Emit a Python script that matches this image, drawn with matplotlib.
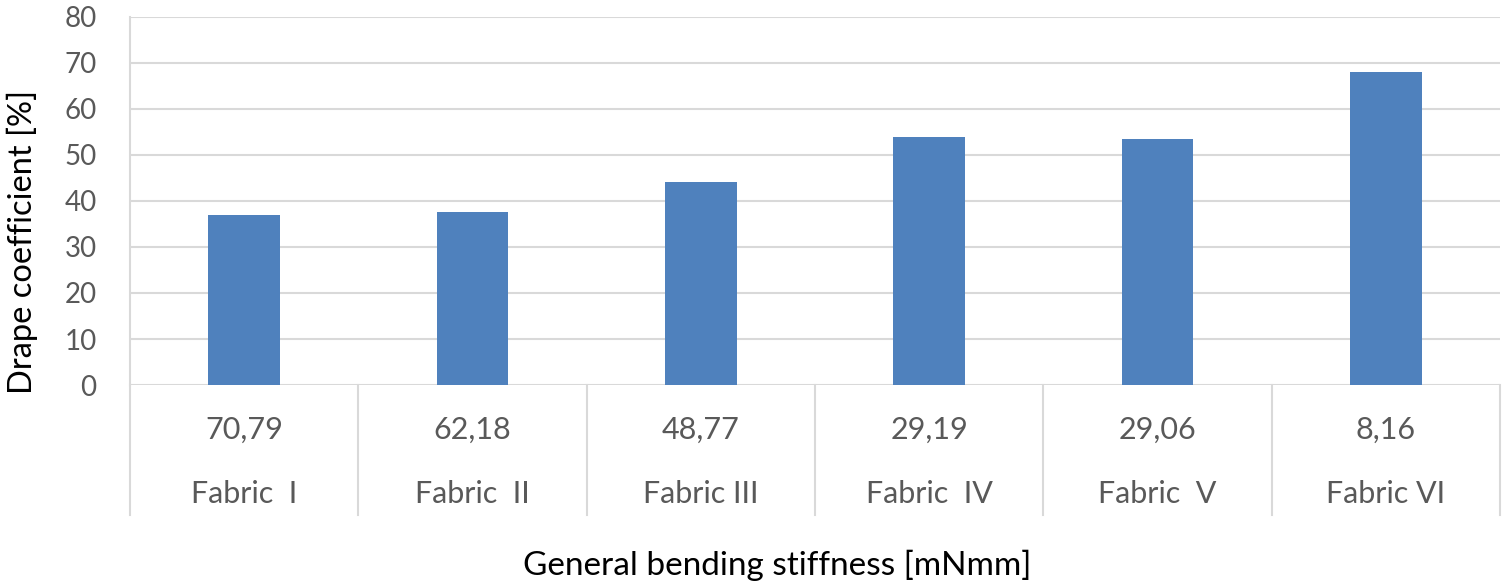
import numpy as np
import matplotlib
matplotlib.use('Agg')
import matplotlib.pyplot as plt
from matplotlib.transforms import blended_transform_factory

# datos
fabrics = ['Fabric  I', 'Fabric  II', 'Fabric III', 'Fabric  IV', 'Fabric  V', 'Fabric VI']
stiffness = ['70,79', '62,18', '48,77', '29,19', '29,06', '8,16']
drape = [37.0, 37.5, 44.2, 54.0, 53.5, 68.1]

plt.rcParams['font.family'] = ['Lato', 'DejaVu Sans']

fig = plt.figure(figsize=(15.02, 5.87), dpi=100)
ax = fig.add_axes([130/1502, 1-385/587, 1370/1502, 368/587])

x = np.arange(len(drape))
ax.bar(x, drape, width=0.315, color='#4f81bd', zorder=3)

ax.set_xlim(-0.5, len(drape) - 0.5)
ax.set_ylim(0, 80)
ax.set_yticks(np.arange(0, 81, 10))
ax.tick_params(axis='y', length=0, pad=24, labelsize=20, labelcolor='#595959')
ax.set_xticks([])
ax.grid(axis='y', color='#d9d9d9', lw=1.5, zorder=0)
for s in ['top', 'right', 'bottom']:
    ax.spines[s].set_visible(False)
ax.spines['left'].set_color('#d9d9d9')
ax.spines['left'].set_linewidth(1.5)

# separadores de categorias debajo del eje
tr = blended_transform_factory(ax.transData, ax.transAxes)
for xs in np.arange(-0.5, len(drape), 1.0):
    ax.plot([xs, xs], [0, -0.353], transform=tr, color='#d9d9d9', lw=1.5, clip_on=False)

for i in range(len(drape)):
    ax.text(i, -0.122, stiffness[i], transform=tr, ha='center', va='center',
            fontsize=22, color='#595959')
    ax.text(i, -0.296, fabrics[i], transform=tr, ha='center', va='center',
            fontsize=22, color='#595959')

fig.text(777/1502, 1 - 565/587, 'General bending stiffness [mNmm]',
         ha='center', va='center', fontsize=24, color='black')
fig.text(22/1502, 1 - 242/587, 'Drape coefficient [%]', rotation=90,
         ha='center', va='center', fontsize=23.5, color='black')

fig.savefig('out.png', dpi=100)
